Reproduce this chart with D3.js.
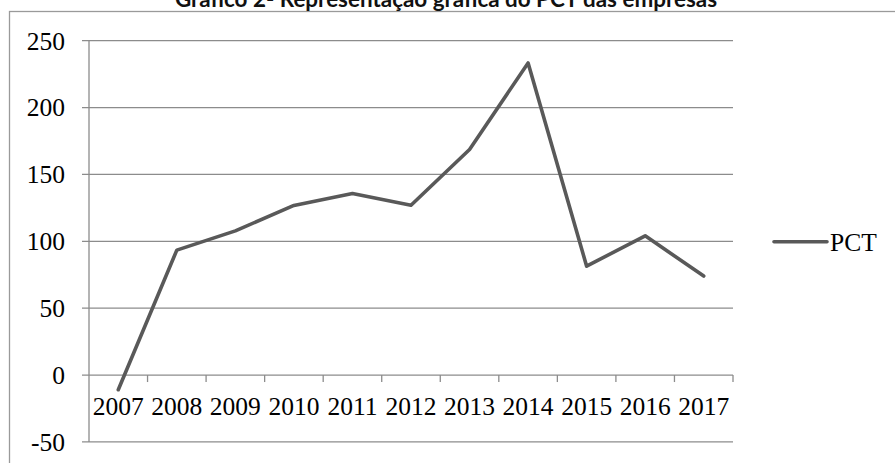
<!DOCTYPE html>
<html><head><meta charset="utf-8">
<script src="https://cdn.jsdelivr.net/npm/d3@7"></script>
<style>body{margin:0;background:#fff}svg{display:block}</style>
</head><body>
<svg id="c" width="895" height="463"></svg>
<script>
const title = "Gráfico 2- Representação gráfica do PCT das empresas";
const years = ["2007","2008","2009","2010","2011","2012","2013","2014","2015","2016","2017"];
const pct = [-11, 93.4, 107.8, 126.8, 135.7, 127, 168.6, 233.4, 81.4, 104.1, 74];
const yTicks = [-50, 0, 50, 100, 150, 200, 250];
const seriesName = "PCT";

const svg = d3.select("#c");
const L = 89, R = 733, T = 40.7, B = 441.9;
const x = d3.scaleBand().domain(years).range([L, R]).padding(0);
const y = d3.scaleLinear().domain([-50, 250]).range([B, T]);
const grid = "#8c8c8c", serif = "'Liberation Serif','Times New Roman',serif";

// outer frame
svg.append("rect").attr("x", 9.5).attr("y", 11.5).attr("width", 895).attr("height", 470)
  .attr("fill", "none").attr("stroke", "#9a9a9a").attr("stroke-width", 1.3);

// title
svg.append("text").attr("x", 446).attr("y", 7).attr("text-anchor", "middle")
  .attr("font-family", "Lato, 'Open Sans', sans-serif").attr("font-weight", 700)
  .attr("font-size", 22).attr("textLength", 542).attr("lengthAdjust", "spacingAndGlyphs")
  .attr("fill", "#111").text(title);

// gridlines + y ticks
svg.append("g").selectAll("line").data(yTicks).join("line")
  .attr("x1", L - 7).attr("x2", R).attr("y1", d => y(d)).attr("y2", d => y(d))
  .attr("stroke", grid).attr("stroke-width", 1.3);
svg.append("line").attr("x1", L).attr("x2", L).attr("y1", T).attr("y2", B)
  .attr("stroke", grid).attr("stroke-width", 1.3);
svg.append("g").selectAll("text").data(yTicks).join("text")
  .attr("x", 65).attr("y", d => y(d)).attr("dy", "0.35em").attr("text-anchor", "end")
  .attr("font-family", serif).attr("font-size", 25.5).attr("fill", "#000").text(d => d);

// x axis ticks at category boundaries
const bounds = years.map(d => x(d) + x.bandwidth()).concat([]);
svg.append("g").selectAll("line").data(bounds).join("line")
  .attr("x1", d => d).attr("x2", d => d).attr("y1", y(0)).attr("y2", y(0) + 7)
  .attr("stroke", grid).attr("stroke-width", 1.3);
svg.append("g").selectAll("text").data(years).join("text")
  .attr("x", d => x(d) + x.bandwidth() / 2).attr("y", 415)
  .attr("text-anchor", "middle").attr("font-family", serif).attr("font-size", 25.5)
  .attr("fill", "#000").text(d => d);

// series line
const line = d3.line().x((d, i) => x(years[i]) + x.bandwidth() / 2).y(d => y(d));
svg.append("path").datum(pct).attr("d", line).attr("fill", "none")
  .attr("stroke", "#595959").attr("stroke-width", 3.6).attr("stroke-linejoin", "round")
  .attr("stroke-linecap", "round");

// legend
svg.append("line").attr("x1", 774).attr("x2", 827).attr("y1", 241.7).attr("y2", 241.7)
  .attr("stroke", "#595959").attr("stroke-width", 3.6).attr("stroke-linecap", "round");
svg.append("text").attr("x", 830).attr("y", 241.7).attr("dy", "0.35em")
  .attr("font-family", serif).attr("font-size", 25.5).attr("fill", "#000").text(seriesName);
</script>
</body></html>
